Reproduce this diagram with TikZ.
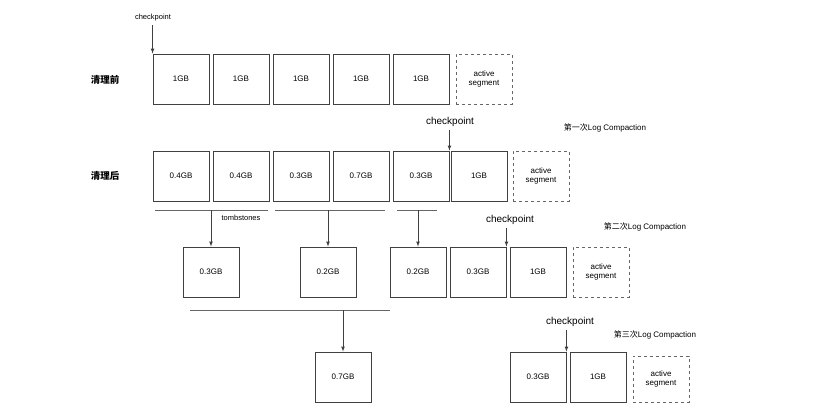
\documentclass[tikz,border=0pt]{standalone}
\usepackage{fontspec}
\setmainfont{Liberation Sans}
\newfontfamily\cjk{Noto Sans CJK SC}
\begin{document}
\begin{tikzpicture}[x=1pt,y=-1pt,
 seg/.style={draw=black!75,line width=0.9pt,minimum width=56pt,minimum height=50pt,inner sep=0pt,font=\fontsize{8}{9}\selectfont,align=center},
 act/.style={seg,dashed,draw=black!60},
 lbl/.style={font=\fontsize{9}{10}\selectfont},
 ar/.style={-latex,black!75,line width=0.7pt},
 ln/.style={black!60,line width=0.8pt}]
\useasboundingbox (0,0) rectangle (816,420);
% row 1
\node[lbl,font=\fontsize{9.5}{10}\cjk\bfseries] (l1) at (105,80) {清理前};
\foreach \i/\x in {1/181,2/241,3/301,4/361,5/421}{\node[seg] (a\i) at (\x,79) {1GB};}
\node[act] (a6) at (484,79) {active\\segment};
\node[lbl,font=\fontsize{7.5}{9}\selectfont] (c1) at (153,18) {checkpoint};
\draw[ar] (a1.north west|-c1.south) -- (a1.north west);
% row 2
\node[lbl,font=\fontsize{9.5}{10}\cjk\bfseries] (l2) at (105,176) {清理后};
\foreach \i/\x/\t in {1/181/0.4GB,2/241/0.4GB,3/301/0.3GB,4/361/0.7GB,5/421/0.3GB,6/479/1GB}{\node[seg] (b\i) at (\x,176) {\t};}
\node[act] (b7) at (541,176) {active\\segment};
\node[lbl,font=\fontsize{10}{11}\selectfont] (c2) at (450,122) {checkpoint};
\node[lbl,font=\fontsize{8}{10}\selectfont] (k1) at (605,128) {{\cjk 第一次}Log Compaction};
\draw[ar] (b5.north east|-c2.south) -- (b5.north east);
\coordinate (u1a) at (155,210); \coordinate (u1b) at (268,210);
\coordinate (u2a) at (275,210); \coordinate (u2b) at (385,210);
\coordinate (u3a) at (397,210); \coordinate (u3b) at (437,210);
\draw[ln] (u1a) -- (u1b); \draw[ln] (u2a) -- (u2b); \draw[ln] (u3a) -- (u3b);
\node[lbl,font=\fontsize{7.5}{9}\selectfont] (tb) at (241,218) {tombstones};
% row 3
\foreach \i/\x/\t in {1/211/0.3GB,2/328/0.2GB,3/418/0.2GB,4/478/0.3GB,5/538/1GB}{\node[seg] (r\i) at (\x,272) {\t};}
\node[act] (r6) at (601,272) {active\\segment};
\draw[ar] (r1.north|-u1a) -- (r1.north);
\draw[ar] (r2.north|-u1a) -- (r2.north);
\draw[ar] (r3.north|-u1a) -- (r3.north);
\node[lbl,font=\fontsize{10}{11}\selectfont] (c3) at (510,220) {checkpoint};
\node[lbl,font=\fontsize{8}{10}\selectfont] (k2) at (645,227) {{\cjk 第二次}Log Compaction};
\draw[ar] (r4.north east|-c3.south) -- (r4.north east);
\coordinate (v1) at (190,310); \coordinate (v2) at (390,310);
\draw[ln] (v1) -- (v2);
% row 4
\node[seg] (s1) at (343,377) {0.7GB};
\draw[ar] (s1.north|-v1) -- (s1.north);
\node[seg] (s2) at (538,377) {0.3GB};
\node[seg] (s3) at (598,377) {1GB};
\node[act,minimum height=46pt] (s4) at (661,379) {active\\segment};
\node[lbl,font=\fontsize{10}{11}\selectfont] (c4) at (570,322) {checkpoint};
\node[lbl,font=\fontsize{8}{10}\selectfont] (k3) at (655,335) {{\cjk 第三次}Log Compaction};
\draw[ar] (s2.north east|-c4.south) -- (s2.north east);
\end{tikzpicture}
\end{document}
